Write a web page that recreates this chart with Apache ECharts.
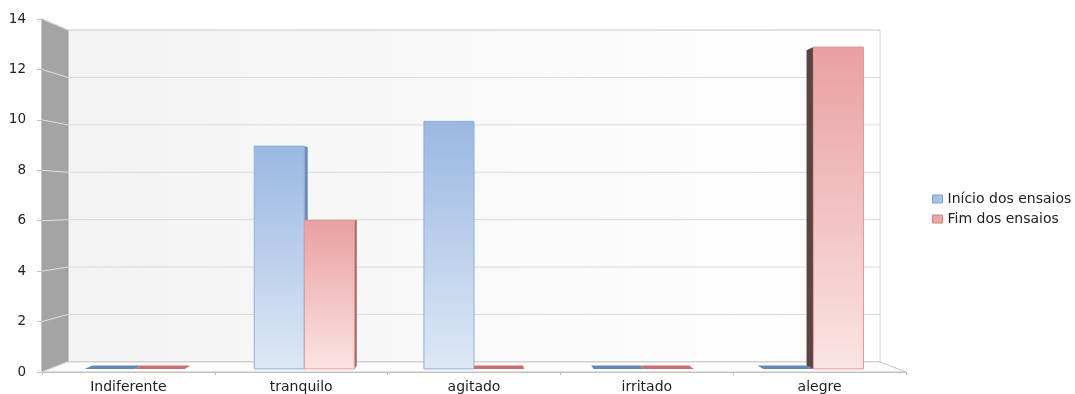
<!DOCTYPE html>
<html>
<head>
<meta charset="utf-8">
<title>Início e fim dos ensaios</title>
<script src="https://cdn.jsdelivr.net/npm/echarts@6/dist/echarts.min.js"></script>
<style>
  html, body { margin: 0; padding: 0; background: #ffffff; }
  #chart { width: 1075px; height: 394px; }
</style>
</head>
<body>
<div id="chart"></div>
<script>
// Categories and series values
const categories = ['Indiferente', 'tranquilo', 'agitado', 'irritado', 'alegre'];
const seriesNames = ['Início dos ensaios', 'Fim dos ensaios'];
const inicioValues = [0, 9, 10, 0, 0];
const fimValues = [0, 6, 0, 0, 13];
const yTicks = [0, 2, 4, 6, 8, 10, 12, 14];

// Pseudo-3D look: the grid is the front plane, everything else is projected
// towards a vanishing point in the middle of the plot.
const DEPTH_SHRINK = 0.06;   // how much the back plane shrinks
const HORIZON_VALUE = 6.7;   // eye level, in axis units
const BAR_Z0 = 0.3;          // depth of bar front faces
const BAR_Z1 = 0.63;         // depth of bar back faces
const BAR_RATIO = 0.295;     // width of one bar as a share of a category band

const FONT = 'DejaVu Sans';

function projector(api, cs) {
  const vx = cs.x + cs.width / 2;
  const vy = api.coord([0, HORIZON_VALUE])[1];
  const fn = function (x, y, z) {
    const k = 1 - DEPTH_SHRINK * z;
    return [vx + (x - vx) * k, vy + (y - vy) * k];
  };
  fn.vx = vx;
  fn.vy = vy;
  return fn;
}

// Back wall, side wall, floor and the gridlines on them
function renderWalls(params, api) {
  const cs = params.coordSys;
  const L = cs.x, R = cs.x + cs.width, T = cs.y, B = cs.y + cs.height;
  const P = projector(api, cs);
  const children = [];

  children.push({
    type: 'polygon',
    shape: { points: [P(L, T, 1), P(R, T, 1), P(R, B, 1), P(L, B, 1)] },
    style: {
      fill: new echarts.graphic.LinearGradient(0, 0, 1, 0, [
        { offset: 0, color: '#f3f3f3' },
        { offset: 1, color: '#ffffff' }
      ]),
      stroke: '#d6d6d6',
      lineWidth: 1
    }
  });

  children.push({
    type: 'polygon',
    shape: { points: [[L, T], P(L, T, 1), P(L, B, 1), [L, B]] },
    style: { fill: '#a4a4a4', stroke: '#9a9a9a', lineWidth: 1 }
  });

  children.push({
    type: 'polygon',
    shape: { points: [[L, B], [R, B], P(R, B, 1), P(L, B, 1)] },
    style: { fill: '#fcfcfc', stroke: '#c4c4c4', lineWidth: 1 }
  });

  yTicks.forEach(function (v) {
    const y = api.coord([0, v])[1];
    children.push({
      type: 'line',
      shape: { x1: L, y1: y, x2: P(L, y, 1)[0], y2: P(L, y, 1)[1] },
      style: { stroke: '#e2e2e2', lineWidth: 1 }
    });
    if (v > yTicks[0]) {
      children.push({
        type: 'line',
        shape: { x1: P(L, y, 1)[0], y1: P(L, y, 1)[1], x2: P(R, y, 1)[0], y2: P(R, y, 1)[1] },
        style: { stroke: '#dadada', lineWidth: 1 }
      });
    }
  });

  return { type: 'group', children: children, silent: true };
}

function barRenderer(slot, look) {
  return function (params, api) {
    const cs = params.coordSys;
    const idx = api.value(0);
    const val = api.value(1);
    const base = api.coord([idx, 0]);
    const top = api.coord([idx, val]);
    const band = api.size([1, 0])[0];
    const w = band * BAR_RATIO;
    const x0 = slot === 0 ? base[0] - w : base[0];
    const x1 = x0 + w;
    const yb = base[1], yt = top[1];
    const P = projector(api, cs);

    const fbl = P(x0, yb, BAR_Z0), fbr = P(x1, yb, BAR_Z0);
    const ftl = P(x0, yt, BAR_Z0), ftr = P(x1, yt, BAR_Z0);
    const bbl = P(x0, yb, BAR_Z1), bbr = P(x1, yb, BAR_Z1);
    const btl = P(x0, yt, BAR_Z1), btr = P(x1, yt, BAR_Z1);

    const children = [];
    if (val > 0 && x1 < P.vx - 0.5) {
      children.push({
        type: 'polygon',
        shape: { points: [fbr, ftr, btr, bbr] },
        style: { fill: look.sideRight }
      });
    }
    if (val > 0 && x0 > P.vx + 0.5) {
      children.push({
        type: 'polygon',
        shape: { points: [fbl, ftl, btl, bbl] },
        style: { fill: look.sideLeft }
      });
    }
    if (yt > P.vy) {
      children.push({
        type: 'polygon',
        shape: { points: [ftl, ftr, btr, btl] },
        style: { fill: look.top }
      });
    }
    if (val > 0) {
      children.push({
        type: 'polygon',
        shape: { points: [ftl, ftr, fbr, fbl] },
        style: {
          fill: new echarts.graphic.LinearGradient(0, 0, 0, 1, [
            { offset: 0, color: look.frontTop },
            { offset: 1, color: look.frontBottom }
          ]),
          stroke: look.border,
          lineWidth: 1
        }
      });
    }
    return { type: 'group', children: children };
  };
}

const blueLook = {
  frontTop: '#9ab8e1', frontBottom: '#dde8f6', border: '#8eaedb',
  sideRight: '#6f8cb4', sideLeft: '#3f5068', top: '#6688b8'
};
const redLook = {
  frontTop: '#e9a0a0', frontBottom: '#fbe4e4', border: '#df9898',
  sideRight: '#a86a6a', sideLeft: '#5a4343', top: '#c96f6f'
};

function pairs(values) {
  return values.map(function (v, i) { return [i, v]; });
}

const chart = echarts.init(document.getElementById('chart'), null, { renderer: 'canvas' });

chart.setOption({
  animation: false,
  backgroundColor: '#ffffff',
  textStyle: { fontFamily: FONT },
  grid: { left: 42, right: 169, top: 19, bottom: 22, containLabel: false },
  legend: {
    orient: 'vertical',
    left: 927,
    top: 187,
    itemWidth: 10,
    itemHeight: 8,
    itemGap: 6,
    icon: 'rect',
    selectedMode: false,
    textStyle: { fontFamily: FONT, fontSize: 14, color: '#222222', lineHeight: 14 },
    data: [
      { name: seriesNames[0], itemStyle: { color: '#a9c3e6', borderColor: '#7e9fce', borderWidth: 1 } },
      { name: seriesNames[1], itemStyle: { color: '#eaa9a9', borderColor: '#cf7f7f', borderWidth: 1 } }
    ]
  },
  xAxis: {
    type: 'category',
    data: categories,
    boundaryGap: true,
    axisLine: { show: true, lineStyle: { color: '#bdbdbd', width: 1 } },
    axisTick: { show: true, length: 3, lineStyle: { color: '#bdbdbd' } },
    axisLabel: { fontFamily: FONT, fontSize: 14, color: '#1e1e1e', margin: 8 },
    splitLine: { show: false }
  },
  yAxis: {
    type: 'value',
    min: yTicks[0],
    max: yTicks[yTicks.length - 1],
    interval: yTicks[1] - yTicks[0],
    axisLine: { show: false },
    axisTick: { show: true, length: 5, lineStyle: { color: '#c4c4c4' } },
    axisLabel: { fontFamily: FONT, fontSize: 13.5, color: '#1e1e1e', margin: 16 },
    splitLine: { show: false }
  },
  series: [
    {
      name: 'walls',
      type: 'custom',
      silent: true,
      z: 1,
      data: [[0, 0]],
      renderItem: renderWalls
    },
    {
      name: seriesNames[0],
      type: 'custom',
      z: 2,
      itemStyle: { color: '#a9c3e6' },
      encode: { x: 0, y: 1 },
      data: pairs(inicioValues),
      renderItem: barRenderer(0, blueLook)
    },
    {
      name: seriesNames[1],
      type: 'custom',
      z: 3,
      itemStyle: { color: '#eaa9a9' },
      encode: { x: 0, y: 1 },
      data: pairs(fimValues),
      renderItem: barRenderer(1, redLook)
    }
  ]
});
</script>
</body>
</html>
